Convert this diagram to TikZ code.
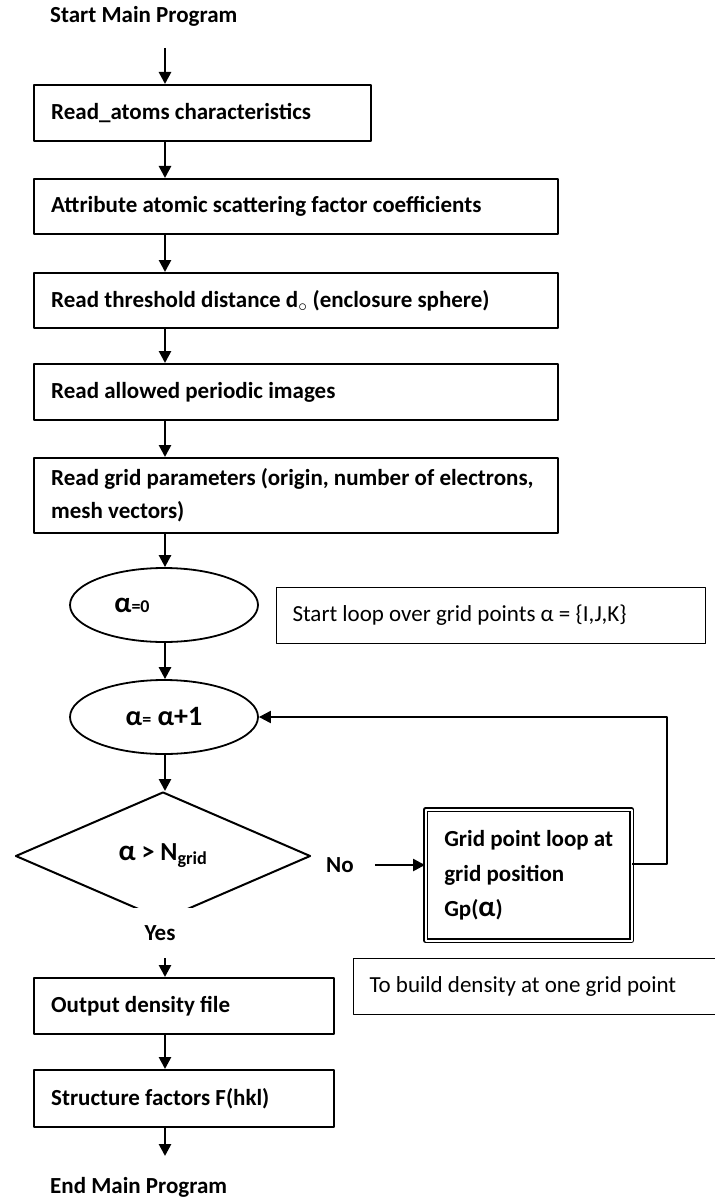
\documentclass[tikz,border=0pt]{standalone}
\usepackage{fontspec}
\setmainfont{Carlito}
\usetikzlibrary{arrows.meta,shapes.geometric}
\newcommand\bigal{{\fontsize{29}{29}\selectfont α}}
\begin{document}
\begin{tikzpicture}[x=1pt, y=-1pt, line join=round,
    stepbox/.style={draw, line width=2.4pt, anchor=north west, inner xsep=17pt, inner ysep=0pt, align=flush left, font=\bfseries\fontsize{23}{33}\selectfont},
    notebox/.style={draw, line width=1pt, anchor=north west, inner xsep=16pt, inner ysep=0pt, align=flush left, font=\fontsize{23}{27}\selectfont},
    ellip/.style={draw, ellipse, line width=1.8pt, minimum width=188pt, minimum height=74pt, inner sep=0pt, font=\bfseries\fontsize{23}{27}\selectfont},
    arr/.style={line width=2.6pt, -{Triangle[length=12pt,width=12pt]}},
    lbl/.style={inner sep=0pt, font=\bfseries\fontsize{23}{27}\selectfont}]
\useasboundingbox (0,0) rectangle (714,1198);
\coordinate (sp) at (165,0);
\coordinate (s0) at (165,48);
\coordinate (e0) at (165,1156);
\node[lbl, anchor=west] (start) at (50,16) {Start Main Program};
\node[stepbox, minimum width=337pt, minimum height=56pt, text width=303pt] (read) at (33,84) {Read\_atoms characteristics};
\node[stepbox, minimum width=524pt, minimum height=55pt, text width=490pt] (attr) at (33,178) {Attribute atomic scattering factor coefficients};
\node[stepbox, minimum width=524pt, minimum height=55pt, text width=490pt] (thresh) at (33,272) {Read threshold distance d$_{\circ}$ (enclosure sphere)};
\node[stepbox, minimum width=524pt, minimum height=56pt, text width=490pt] (img) at (33,363) {Read allowed periodic images};
\node[stepbox, minimum width=524pt, minimum height=75pt, text width=490pt] (gridpar) at (33,457) {Read grid parameters (origin, number of electrons,\\ mesh vectors)};
\node[ellip] (ell0) at (164,605) {\bigal{\fontsize{18}{18}\selectfont=0}\hspace*{64pt}};
\node[notebox, minimum width=429pt, minimum height=56pt, text width=397pt] (note1) at (276,587) {Start loop over grid points α = \{I,J,K\}};
\node[ellip] (ell1) at (164,717) {{\fontsize{28}{28}\selectfont α{\fontsize{18}{18}\selectfont=} α+1}};
\node[draw, diamond, line width=2pt, minimum width=295pt, minimum height=128pt, inner sep=0pt, font=\bfseries\fontsize{26}{26}\selectfont] (cond) at (163,856) {\bigal{} > N\textsubscript{grid}};
\node[lbl, fill=white, anchor=north, minimum width=72pt, minimum height=50pt] (yes) at (160,908) {Yes};
\node[lbl] (no) at (340,865) {No};
\node[draw, double, double distance=2pt, line width=1.3pt, anchor=north west, minimum width=206pt, minimum height=131pt, inner sep=0pt, align=left, font=\bfseries\fontsize{23}{35}\selectfont] (grid) at (425,809) {Grid point loop at\\ grid position\\ Gp(\bigal)};
\node[notebox, minimum width=367pt, minimum height=56pt, text width=335pt] (note2) at (353,958) {To build density at one grid point};
\node[stepbox, minimum width=300pt, minimum height=56pt, text width=266pt] (out) at (33,977) {Output density file};
\node[stepbox, minimum width=300pt, minimum height=57pt, text width=266pt] (sf) at (33,1069) {Structure factors F(hkl)};
\node[lbl, anchor=west] (end) at (50,1187) {End Main Program};
% main line
\draw[arr] (s0) -- (read.north -| sp);
\foreach \a/\b in {read/attr, attr/thresh, thresh/img, img/gridpar, gridpar/ell0, ell0/ell1, ell1/cond, yes/out, out/sf}
  \draw[arr] (\a.south -| sp) -- (\b.north -| sp);
\draw[arr] (sf.south -| sp) -- (e0);
% loop back
\draw[arr, shorten <=21pt] (no.east) -- (grid.west |- no.east);
\draw[line width=2.2pt, -{Triangle[length=12pt,width=12pt]}] ([yshift=11.5pt]grid.east) -- ++(35pt,0) |- (ell1.east);
\end{tikzpicture}
\end{document}
